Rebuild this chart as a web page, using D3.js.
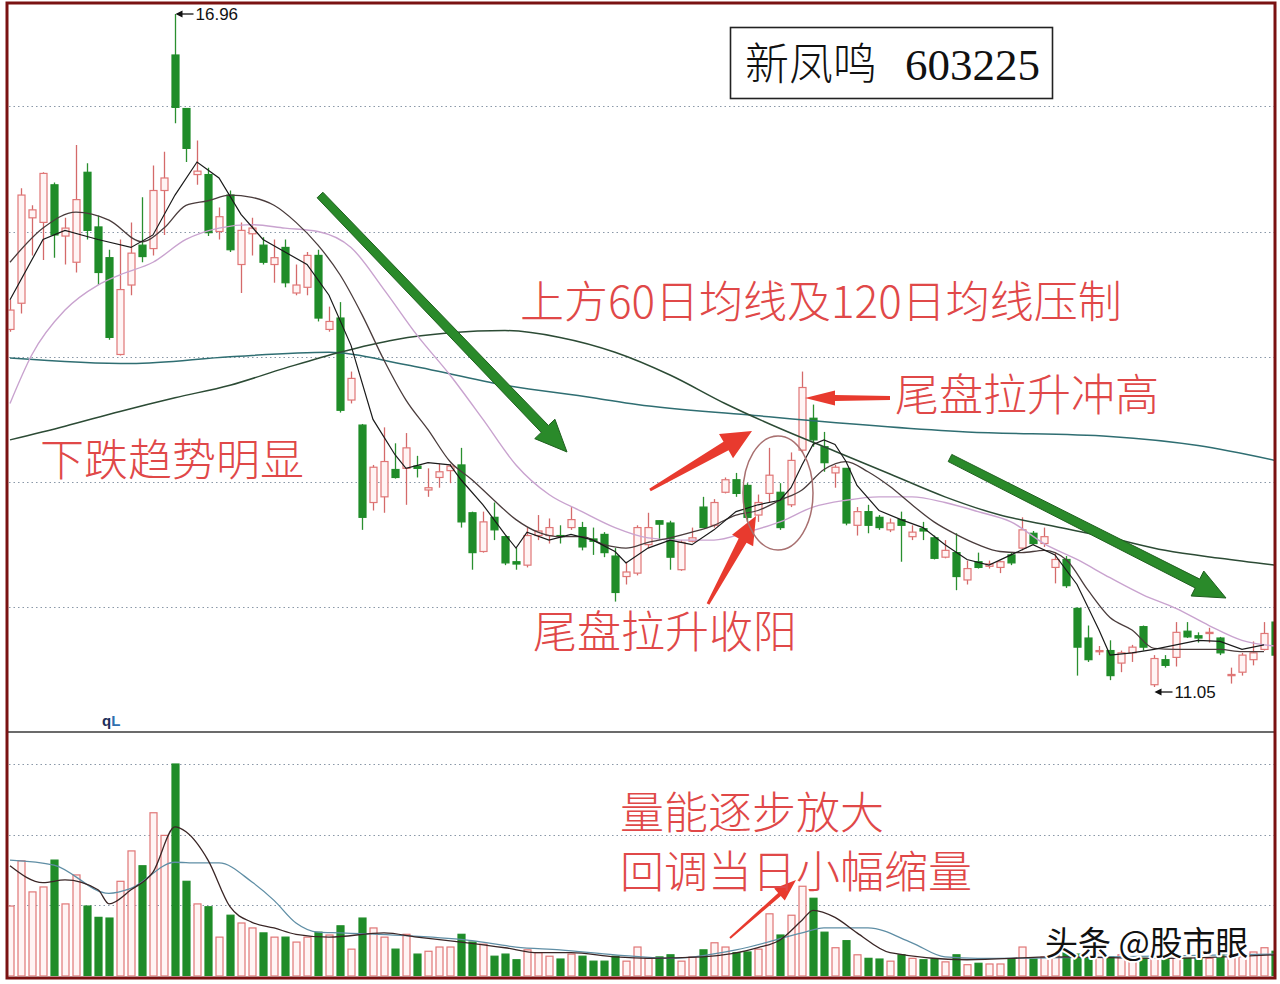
<!DOCTYPE html>
<html><head><meta charset="utf-8">
<script src="https://cdn.jsdelivr.net/npm/d3@7"></script>
<style>body{margin:0;background:#fff}svg{display:block}</style>
</head><body>
<svg id="c" width="1280" height="984"></svg>
<script>
// ---- data ----
const opens  = [14.19,14.42,15.17,15.13,15.46,15.01,14.78,15.57,15.09,14.82,13.97,14.58,14.93,14.90,15.41,16.60,16.13,15.55,15.55,15.05,15.37,14.76,15.03,14.93,14.76,14.91,14.51,14.56,14.84,14.19,14.29,13.57,13.35,12.67,12.72,12.96,12.97,12.99,12.78,12.89,12.95,13.00,12.58,12.24,12.54,12.37,12.15,12.12,12.38,12.38,12.38,12.45,12.45,12.35,12.39,12.20,12.02,12.05,12.30,12.51,12.49,12.08,12.33,12.63,12.47,12.76,12.87,12.82,12.56,12.75,12.76,12.65,13.13,13.41,13.16,12.93,12.97,12.47,12.59,12.54,12.43,12.52,12.37,12.44,12.36,12.19,12.23,11.99,12.15,12.11,12.10,12.21,12.27,12.40,12.31,12.10,12.17,11.74,11.48,11.36,11.37,11.26,11.35,11.58,11.07,11.29,11.31,11.54,11.50,11.52,11.48,11.15,11.18,11.29,11.38,11.62];
const highs  = [14.45,15.43,15.28,15.57,15.48,15.17,15.81,15.65,15.19,14.89,14.98,15.13,15.35,15.63,15.75,16.96,16.13,15.85,15.61,15.26,15.41,15.13,15.17,15.00,14.98,14.98,14.76,14.87,14.89,14.39,14.43,13.82,13.36,13.00,13.33,13.19,13.28,13.08,12.97,13.01,13.01,13.15,12.59,12.59,12.67,12.38,12.27,12.45,12.56,12.53,12.47,12.63,12.50,12.45,12.41,12.27,12.15,12.47,12.58,12.51,12.51,12.34,12.45,12.72,12.70,12.89,12.93,12.84,12.74,13.15,12.84,13.11,13.82,13.53,13.29,13.00,12.97,12.63,12.65,12.56,12.53,12.59,12.47,12.50,12.38,12.34,12.40,12.16,12.23,12.16,12.16,12.23,12.54,12.42,12.45,12.23,12.20,11.75,11.59,11.41,11.46,11.37,11.42,11.59,11.33,11.33,11.62,11.62,11.53,11.57,11.49,11.22,11.35,11.45,11.62,11.68];
const lows   = [14.17,14.33,14.84,14.80,14.82,14.76,14.69,14.98,14.58,14.10,13.96,14.49,14.78,14.84,15.02,16.00,15.66,15.46,15.01,14.98,14.87,14.51,14.84,14.76,14.60,14.56,14.49,14.49,14.26,14.17,13.46,13.54,12.43,12.60,12.58,12.88,12.65,12.89,12.72,12.80,12.84,12.45,12.08,12.23,12.34,12.12,12.08,12.10,12.34,12.31,12.31,12.43,12.25,12.21,12.19,11.80,11.95,12.03,12.27,12.34,12.08,12.07,12.32,12.45,12.45,12.75,12.72,12.50,12.50,12.67,12.43,12.63,13.11,13.16,12.94,12.80,12.47,12.38,12.40,12.43,12.41,12.15,12.34,12.34,12.17,12.18,11.90,11.95,12.09,12.09,12.05,12.12,12.25,12.30,12.28,11.96,11.92,11.15,11.27,11.33,11.11,11.18,11.27,11.37,11.05,11.22,11.23,11.48,11.44,11.44,11.33,11.08,11.15,11.24,11.37,11.29];
const closes = [14.36,15.37,15.24,15.56,15.02,15.08,15.33,15.06,14.69,14.12,14.54,14.86,14.83,15.41,15.52,16.14,15.78,15.58,15.04,15.18,14.89,15.06,15.08,14.78,14.82,14.60,14.58,14.84,14.29,14.26,13.48,13.76,12.54,12.98,13.03,12.89,13.15,12.97,12.80,12.94,12.99,12.50,12.23,12.50,12.43,12.14,12.13,12.38,12.42,12.45,12.37,12.52,12.28,12.33,12.23,11.88,12.06,12.45,12.45,12.48,12.19,12.32,12.36,12.45,12.67,12.87,12.75,12.54,12.67,12.91,12.45,13.04,13.68,13.22,13.02,12.98,12.49,12.59,12.47,12.45,12.49,12.47,12.41,12.42,12.18,12.25,12.02,12.09,12.10,12.13,12.15,12.14,12.43,12.31,12.37,12.17,11.94,11.40,11.29,11.37,11.15,11.35,11.40,11.40,11.30,11.24,11.53,11.49,11.48,11.53,11.35,11.16,11.33,11.35,11.52,11.33];
const volumes = [9.9,16.3,11.9,12.6,16.4,10.2,14.3,9.9,8.3,8.2,13.4,17.7,15.6,23.1,19.9,30.0,13.4,10.2,9.8,5.5,8.6,7.5,6.8,6.1,5.5,5.5,4.8,5.5,6.2,5.8,7.1,3.8,8.2,6.8,5.5,3.8,5.9,3.1,3.5,4.1,4.1,5.9,4.8,4.5,2.8,3.1,2.3,3.7,3.3,2.8,2.4,3.1,2.8,2.1,2.1,2.8,2.1,4.1,2.5,2.7,3.0,2.1,2.7,3.7,4.7,4.1,3.3,3.4,3.8,8.8,5.8,8.6,12.7,11.0,6.2,4.0,5.0,3.0,2.5,2.4,2.1,3.0,2.5,2.3,2.4,2.0,3.0,1.6,1.8,1.7,1.7,2.4,4.1,2.4,2.7,3.1,3.3,3.1,2.5,3.3,2.7,3.0,2.7,2.5,2.8,2.5,2.5,2.5,2.5,2.5,3.3,3.3,2.7,3.4,4.0,3.5];

// moving-average lines as [day index, value]
const ma5 = [[0,14.45],[3,14.98],[5,15.06],[8,14.98],[11,14.91],[13,15.02],[15,15.37],[17,15.66],[19,15.52],[21,15.20],[23,14.98],[25,14.87],[27,14.76],[29,14.49],[31,14.05],[33,13.40],[35,13.09],[36,12.97],[38,13.02],[40,13.00],[41,12.87],[43,12.65],[45,12.39],[46,12.27],[47,12.41],[49,12.34],[51,12.39],[53,12.34],[55,12.24],[56,12.14],[58,12.27],[60,12.34],[62,12.30],[64,12.43],[66,12.59],[68,12.65],[70,12.69],[71,12.80],[72,13.00],[73,13.18],[74,13.22],[75,13.18],[76,13.03],[77,12.82],[79,12.60],[81,12.52],[83,12.45],[85,12.30],[87,12.17],[89,12.12],[91,12.21],[93,12.30],[95,12.21],[97,11.95],[99,11.55],[100,11.33],[102,11.35],[104,11.38],[106,11.42],[108,11.46],[110,11.45],[112,11.38],[114,11.42]];
const ma10 = [[0,14.78],[3,15.08],[6,15.22],[9,15.15],[12,14.96],[14,15.08],[16,15.28],[18,15.32],[20,15.37],[22,15.35],[24,15.28],[26,15.13],[28,14.93],[30,14.67],[32,14.32],[34,13.92],[36,13.57],[38,13.31],[40,13.03],[42,12.87],[44,12.69],[46,12.52],[48,12.41],[50,12.37],[52,12.37],[54,12.30],[56,12.27],[58,12.32],[60,12.36],[62,12.41],[64,12.47],[66,12.56],[68,12.60],[70,12.69],[72,12.78],[74,12.96],[76,13.03],[78,12.94],[80,12.81],[82,12.65],[84,12.50],[86,12.39],[88,12.30],[90,12.24],[92,12.23],[94,12.25],[96,12.17],[98,11.90],[100,11.66],[102,11.55],[104,11.39],[106,11.38],[108,11.38],[110,11.38],[112,11.36],[114,11.36]];
const ma20 = [[0,13.54],[2,13.97],[5,14.36],[8,14.58],[10,14.67],[13,14.78],[16,14.98],[19,15.08],[22,15.11],[25,15.08],[28,15.05],[31,14.91],[34,14.54],[37,14.14],[40,13.79],[43,13.40],[46,13.00],[49,12.74],[52,12.59],[55,12.45],[58,12.36],[61,12.34],[64,12.34],[67,12.41],[70,12.50],[73,12.63],[76,12.69],[79,12.72],[82,12.72],[85,12.67],[88,12.59],[91,12.50],[94,12.31],[97,12.17],[100,12.01],[103,11.86],[106,11.74],[109,11.59],[112,11.46],[115,11.41]];
const ma60 = [[0,13.22],[5,13.34],[10,13.47],[15,13.59],[20,13.70],[25,13.85],[30,13.99],[35,14.10],[40,14.16],[45,14.18],[50,14.12],[55,13.99],[60,13.79],[65,13.54],[70,13.32],[75,13.12],[80,12.92],[85,12.72],[90,12.56],[95,12.46],[100,12.36],[105,12.25],[110,12.18],[115,12.12]];
const ma120 = [[0,13.94],[11,13.89],[20,13.95],[29,13.99],[36,13.88],[45,13.70],[53,13.59],[57,13.53],[67,13.44],[87,13.29],[100,13.25],[108,13.17],[115,13.04]];
const volMa5 = [[0,15.6],[3,13.2],[5,13.6],[8,12.2],[9,10.2],[11,12.2],[13,14.7],[15,21.1],[16,20.4],[18,16.4],[20,9.8],[22,7.6],[24,6.8],[26,5.9],[29,5.5],[34,6.1],[37,5.5],[41,4.8],[45,4.0],[48,3.3],[51,3.3],[55,2.7],[58,2.5],[63,2.7],[68,4.0],[70,5.1],[72,7.9],[73,9.3],[75,8.3],[77,6.1],[80,3.3],[87,2.3],[95,2.7],[105,2.5],[115,3.0]];
const volMa10 = [[0,16.4],[4,15.7],[9,11.7],[11,12.4],[15,16.1],[17,16.0],[19,16.0],[22,13.3],[24,10.7],[26,7.5],[28,6.2],[30,6.1],[36,5.7],[42,5.0],[46,4.1],[50,3.7],[55,3.0],[60,2.5],[66,3.7],[72,6.1],[74,6.8],[78,6.8],[82,4.7],[85,2.7],[88,2.5],[100,2.7],[115,3.1]];

const priceGrid = [11.75, 12.85, 13.95, 15.05, 16.15];
const volGrid = [10, 20, 30];
const highLabel = {day: 15, value: 16.96, text: "16.96"};
const lowLabel  = {day: 104, value: 11.05, text: "11.05"};

// ---- scales ----
const svg = d3.select('#c');
const x  = d3.scaleLinear().domain([0, 115]).range([10, 1275]);
const y  = d3.scaleLinear().domain([11.05, 16.96]).range([687, 14]);
const yv = d3.scaleLinear().domain([0, 30]).range([976, 764]);

const defs = svg.append('defs');
defs.append('clipPath').attr('id','clip').append('rect').attr('x',8.5).attr('y',4).attr('width',1265.5).attr('height',972);

// grid lines
const grid = svg.append('g');
grid.selectAll('line.pg').data(priceGrid).join('line')
  .attr('x1',9).attr('x2',1274).attr('y1',d=>Math.round(y(d))+0.5).attr('y2',d=>Math.round(y(d))+0.5)
  .attr('stroke','#8a98a8').attr('stroke-width',1.2).attr('stroke-dasharray','1.5,3');
grid.selectAll('line.vg').data(volGrid).join('line')
  .attr('x1',9).attr('x2',1274).attr('y1',d=>Math.round(yv(d))+0.5).attr('y2',d=>Math.round(yv(d))+0.5)
  .attr('stroke','#8a98a8').attr('stroke-width',1.2).attr('stroke-dasharray','1.5,3');

// separator between panes
svg.append('line').attr('x1',8).attr('x2',1274).attr('y1',732).attr('y2',732).attr('stroke','#6b6b6b').attr('stroke-width',2);

const plot = svg.append('g').attr('clip-path','url(#clip)');

const UP_FILL='#fff4f4', UP_STROKE='#e07676', DN='#1f8c29';
const data = opens.map((o,i)=>({i, o, h:highs[i], l:lows[i], c:closes[i], v:volumes[i], up: closes[i] >= opens[i]}));
const cx = d => Math.round(x(d.i)) + 0.5;

// volume bars
plot.append('g').selectAll('rect').data(data).join('rect')
  .attr('x', d=>cx(d)-3.5).attr('width',7)
  .attr('y', d=>yv(d.v)).attr('height', d=>yv(0)-yv(d.v))
  .attr('fill', d=>d.up?UP_FILL:DN).attr('stroke', d=>d.up?UP_STROKE:DN).attr('stroke-width',1.2);

// wicks
plot.append('g').selectAll('line').data(data).join('line')
  .attr('x1',cx).attr('x2',cx).attr('y1',d=>y(d.h)).attr('y2',d=>y(d.l))
  .attr('stroke', d=>d.up?'#d46a6a':'#2a8f2f').attr('stroke-width',1.3);
// bodies
plot.append('g').selectAll('rect').data(data).join('rect')
  .attr('x', d=>cx(d)-3.5).attr('width',7)
  .attr('y', d=>y(Math.max(d.o,d.c)))
  .attr('height', d=>Math.max(1.2, Math.abs(y(d.o)-y(d.c))))
  .attr('fill', d=>d.up?UP_FILL:DN).attr('stroke', d=>d.up?UP_STROKE:DN).attr('stroke-width',1.2);

// MA lines
const lineP = (curve) => d3.line().x(d=>x(d[0])).y(d=>y(d[1])).curve(curve);
const lineV = (curve) => d3.line().x(d=>x(d[0])).y(d=>yv(d[1])).curve(curve);
const maLayer = plot.append('g').attr('fill','none');
maLayer.append('path').attr('d', lineP(d3.curveMonotoneX)(ma120)).attr('stroke','#2f6e72').attr('stroke-width',1.5);
maLayer.append('path').attr('d', lineP(d3.curveMonotoneX)(ma60)).attr('stroke','#2c4b35').attr('stroke-width',1.5);
maLayer.append('path').attr('d', lineP(d3.curveMonotoneX)(ma20)).attr('stroke','#c9a3cf').attr('stroke-width',1.4);
maLayer.append('path').attr('d', lineP(d3.curveMonotoneX)(ma10)).attr('stroke','#4a3c3c').attr('stroke-width',1.3);
maLayer.append('path').attr('d', lineP(d3.curveLinear)(ma5)).attr('stroke','#1a1a1a').attr('stroke-width',1.2);
maLayer.append('path').attr('d', lineV(d3.curveMonotoneX)(volMa10)).attr('stroke','#5f8ea5').attr('stroke-width',1.3);
maLayer.append('path').attr('d', lineV(d3.curveMonotoneX)(volMa5)).attr('stroke','#3a2626').attr('stroke-width',1.3);

// frame
svg.append('rect').attr('x',7).attr('y',3).attr('width',1268).attr('height',975)
  .attr('fill','none').attr('stroke','#7a1212').attr('stroke-width',3);

// ---- annotations ----
const ann = svg.append('g');
function arrowPts(x1,y1,x2,y2,w0,w1,hl,hw){
  const dx=x2-x1, dy=y2-y1, L=Math.hypot(dx,dy), ux=dx/L, uy=dy/L, nx=-uy, ny=ux;
  const bx=x2-ux*hl, by=y2-uy*hl;
  return [[x1+nx*w0/2,y1+ny*w0/2],[bx+nx*w1/2,by+ny*w1/2],[bx+nx*hw/2,by+ny*hw/2],[x2,y2],
          [bx-nx*hw/2,by-ny*hw/2],[bx-nx*w1/2,by-ny*w1/2],[x1-nx*w0/2,y1-ny*w0/2]];
}
function arrow(a, fill, stroke){
  ann.append('polygon').attr('points', arrowPts(...a).map(p=>p.join(',')).join(' '))
    .attr('fill',fill).attr('stroke',stroke||'none').attr('stroke-width',1);
}
// green trend arrows
arrow([320,195,567,452,8,10,32,28], '#2a8a2a', '#1f5f1f');
arrow([950,458,1226,598,8,10,32,28], '#2a8a2a', '#1f5f1f');
// red arrows
arrow([650,490,752,431,3,10,30,28], '#e83a2e');
arrow([708,604,756,516,3,9,28,24], '#e83a2e');
arrow([890,398,805,398,4,6,30,15], '#e83a2e');
arrow([730,938,796,880,2,4,22,16], '#e83a2e');
// ellipse
ann.append('ellipse').attr('cx',778).attr('cy',493).attr('rx',35).attr('ry',57)
  .attr('fill','none').attr('stroke','#a87070').attr('stroke-width',1.5);

// high / low markers
function marker(lbl, dy){
  const px = Math.round(x(lbl.day))+0.5, py = y(lbl.value)+dy;
  ann.append('line').attr('x1',px+2).attr('x2',px+18).attr('y1',py).attr('y2',py).attr('stroke','#111').attr('stroke-width',1.3);
  ann.append('polygon').attr('points',`${px},${py} ${px+7},${py-3.5} ${px+7},${py+3.5}`).attr('fill','#111');
  ann.append('text').attr('x',px+20).attr('y',py+6).text(lbl.text)
    .attr('font-family','Liberation Sans, Arial, sans-serif').attr('font-size',17).attr('fill','#111');
}
marker(highLabel, 0);
marker(lowLabel, 5);

// title box
ann.append('rect').attr('x',730.5).attr('y',27.5).attr('width',322).attr('height',71)
  .attr('fill','#fff').attr('stroke','#222').attr('stroke-width',1.6);
const title = ann.append('text').attr('x',745).attr('y',80).attr('font-size',44).attr('fill','#111');
title.append('tspan').text('新凤鸣').attr('font-family','Noto Sans CJK SC').attr('font-weight',300);
title.append('tspan').attr('x',905).text('603225').attr('font-family','Liberation Serif, serif').attr('font-size',45);

const RED = '#e04848';
const notes = [
  {t:'上方60日均线及120日均线压制', x:520, y:318},
  {t:'尾盘拉升冲高', x:895, y:411},
  {t:'下跌趋势明显', x:40, y:476},
  {t:'尾盘拉升收阳', x:533, y:648},
  {t:'量能逐步放大', x:620, y:829},
  {t:'回调当日小幅缩量', x:620, y:888}
];
ann.selectAll('text.note').data(notes).join('text').attr('class','note')
  .attr('x',d=>d.x).attr('y',d=>d.y).text(d=>d.t)
  .attr('font-family','Noto Sans CJK SC, sans-serif').attr('font-weight',300)
  .attr('font-size',44).attr('fill',RED);

// qL label
const ql = ann.append('text').attr('x',102).attr('y',726).attr('font-family','Liberation Sans, Arial, sans-serif')
  .attr('font-size',15).attr('font-weight','bold');
ql.append('tspan').text('q').attr('fill','#1c2f5a');
ql.append('tspan').text('L').attr('fill','#2f6fb0');

// watermark
ann.append('text').attr('x',1045).attr('y',955).text('头条 @股市眼')
  .attr('font-family','Noto Sans CJK SC, sans-serif').attr('font-size',33).attr('fill','#111')
  .attr('stroke','#fff').attr('stroke-width',4).attr('paint-order','stroke').attr('stroke-linejoin','round');
</script>
</body></html>
